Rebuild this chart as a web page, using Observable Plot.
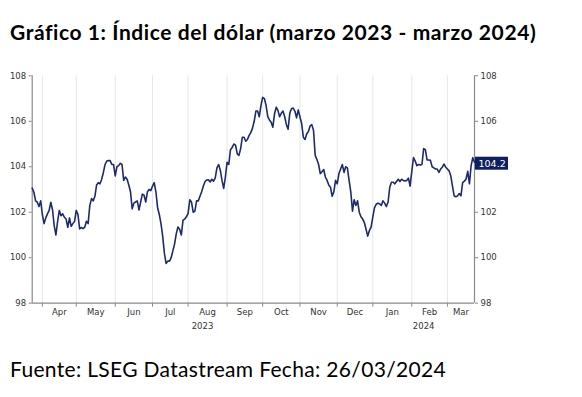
<!DOCTYPE html>
<html><head><meta charset="utf-8">
<script src="https://cdn.jsdelivr.net/npm/d3@7"></script>
<script src="https://cdn.jsdelivr.net/npm/@observablehq/plot@0.6"></script>
<style>
body{margin:0;width:582px;height:397px;position:relative;background:#fff;overflow:hidden}
#title{position:absolute;left:10px;top:19px;font-family:Lato;font-weight:bold;font-size:21px;white-space:nowrap;color:#000;line-height:1.2}
#caption{position:absolute;left:10px;top:356px;font-family:Lato;font-size:21px;white-space:nowrap;color:#000;line-height:1.2}
#chart{position:absolute;left:0;top:60px}
</style></head><body>
<div id="title">Gráfico 1: Índice del dólar (marzo 2023 - marzo 2024)</div>
<div id="chart"></div>
<div id="caption">Fuente: LSEG Datastream Fecha: 26/03/2024</div>
<script>
const startDate = "2023-03-24";
const values = [
103.06,102.88,102.5,102.44,102.25,102.5,101.9,101.5,101.75,101.93,
102.08,102.44,102.1,101.4,101.0,101.6,102.08,101.85,101.93,101.78,
101.7,101.34,101.75,101.38,101.5,101.6,102.08,101.9,101.27,101.33,
101.28,101.34,101.6,101.5,102.3,102.6,102.5,102.7,103.2,103.3,
103.25,103.45,103.75,104.1,104.25,104.27,104.27,104.1,104.1,103.6,
104.0,104.05,104.15,104.1,103.4,103.55,103.45,103.2,102.9,102.15,
102.4,102.45,102.5,102.1,102.45,102.8,102.75,102.45,102.9,103.0,
102.95,103.15,103.3,102.9,102.2,101.9,101.5,100.95,100.2,99.75,
99.85,99.85,100.0,100.3,100.6,101.05,101.35,101.25,101.0,101.65,
101.7,101.8,101.95,102.55,102.45,102.0,102.05,102.5,102.5,102.7,
102.9,103.15,103.35,103.42,103.43,103.33,103.45,103.37,103.5,103.95,
104.1,103.85,103.4,103.05,103.55,104.2,104.1,104.75,104.85,105.0,
104.95,104.57,104.5,104.8,105.3,105.3,105.12,105.2,105.38,105.5,
105.7,106.0,106.45,106.45,106.2,106.7,107.05,107.0,106.7,106.2,
106.06,105.96,105.74,106.33,106.62,106.48,106.2,106.35,106.45,106.2,
105.85,105.65,106.35,106.55,106.58,106.45,106.15,106.5,106.2,105.9,
105.3,105.2,105.45,105.55,105.8,105.85,105.6,104.5,104.32,104.1,
103.7,103.78,103.88,103.55,103.4,103.2,103.1,102.7,102.9,103.4,
103.25,103.7,103.9,104.1,103.75,104.0,103.95,103.4,102.9,102.05,
102.55,102.3,102.5,102.0,101.8,101.7,101.55,101.25,100.95,101.2,
101.35,101.8,102.2,102.35,102.4,102.37,102.3,102.5,102.4,102.25,
102.45,103.1,103.32,103.32,103.25,103.35,103.45,103.35,103.45,103.4,
103.38,103.4,103.5,103.15,103.8,104.4,104.25,104.05,104.1,104.08,
104.1,104.8,104.75,104.3,104.3,104.28,104.0,103.95,103.9,103.9,
103.75,103.9,103.98,104.12,103.98,103.9,103.82,103.6,103.15,102.72,
102.68,102.72,102.82,102.72,103.3,103.37,103.45,103.8,103.25,104.05,
104.4,104.2
];
const yTicks = [98, 100, 102, 104, 106, 108];
const monthLabels = ["Apr","May","Jun","Jul","Aug","Sep","Oct","Nov","Dec","Jan","Feb","Mar"];
const yearLabels = ["2023", "2024"];
const lastLabel = "104.2";

// weekday dates (the source plots business days only)
const dates = [];
const cur = new Date(startDate + "T00:00:00Z");
while (dates.length < values.length) {
  const wd = cur.getUTCDay();
  if (wd !== 0 && wd !== 6) dates.push(new Date(cur));
  cur.setUTCDate(cur.getUTCDate() + 1);
}
const data = values.map((v, i) => ({i, v, date: dates[i]}));
const lastI = data.length - 1;
const monthStarts = [];
for (let i = 1; i < dates.length; i++) if (dates[i].getUTCMonth() !== dates[i - 1].getUTCMonth()) monthStarts.push(i);
const bounds = [...monthStarts, lastI];
const monthMids = monthStarts.map((s, k) => (s + bounds[k + 1]) / 2);
const yearStart = monthStarts.find(i => dates[i].getUTCFullYear() === 2024);
const yearMids = [yearStart / 2, (yearStart + lastI) / 2];

const axisColor = "#8a8a8a";
const textColor = "#333";
const chart = Plot.plot({
  width: 582, height: 290,
  marginTop: 15.3, marginBottom: 47.3, marginLeft: 31.7, marginRight: 108,
  style: {fontFamily: "DejaVu Sans", fontSize: "8.5px", background: "transparent", color: textColor},
  x: {type: "linear", domain: [0, lastI], axis: null},
  y: {domain: [98, 108], axis: null},
  marks: [
    Plot.gridX(monthStarts, {stroke: "#e8e8e8", strokeOpacity: 1}),
    Plot.axisY(yTicks, {anchor: "left", tickSize: 3, tickPadding: 3, stroke: axisColor, fill: textColor, label: null}),
    Plot.axisY(yTicks, {anchor: "right", tickSize: 3, tickPadding: 3, stroke: axisColor, fill: textColor, label: null}),
    Plot.axisX(monthStarts, {anchor: "bottom", tickSize: 4, tickFormat: () => "", stroke: axisColor, label: null}),
    Plot.axisX(monthMids, {anchor: "bottom", tickSize: 0, tickPadding: 6, tickFormat: d => monthLabels[monthMids.indexOf(d)], fill: textColor, label: null}),
    Plot.axisX(yearMids, {anchor: "bottom", tickSize: 0, tickPadding: 19.5, tickFormat: d => yearLabels[yearMids.indexOf(d)], fill: textColor, label: null}),
    Plot.ruleX([0, lastI], {stroke: axisColor, strokeWidth: 1.2}),
    Plot.ruleY([98], {stroke: axisColor, strokeWidth: 1.2}),
    Plot.lineY(data, {x: "i", y: "v", stroke: "#1f2a6b", strokeWidth: 1.6}),
    Plot.text([data[lastI]], {x: "i", y: "v", text: () => lastLabel, textAnchor: "start", dx: 4, dy: 1.5, fill: "white", fontSize: 9.5})
  ]
});
document.getElementById("chart").appendChild(chart);

// dark label box behind the last value
const sx = chart.scale("x"), sy = chart.scale("y");
const px = sx.apply(lastI), py = sy.apply(values[lastI]);
const tg = chart.querySelector('g[aria-label="text"]');
const rect = document.createElementNS("http://www.w3.org/2000/svg", "rect");
rect.setAttribute("x", px + 1);
rect.setAttribute("y", py - 5);
rect.setAttribute("width", 33);
rect.setAttribute("height", 13);
rect.setAttribute("fill", "#10205e");
tg.parentNode.insertBefore(rect, tg);

// fit title/caption widths
function fit(id, target) {
  const el = document.getElementById(id);
  const n = el.textContent.length;
  const w = el.getBoundingClientRect().width;
  el.style.letterSpacing = ((target - w) / n) + "px";
}
fit("title", 526);
fit("caption", 436);
</script>
</body></html>
